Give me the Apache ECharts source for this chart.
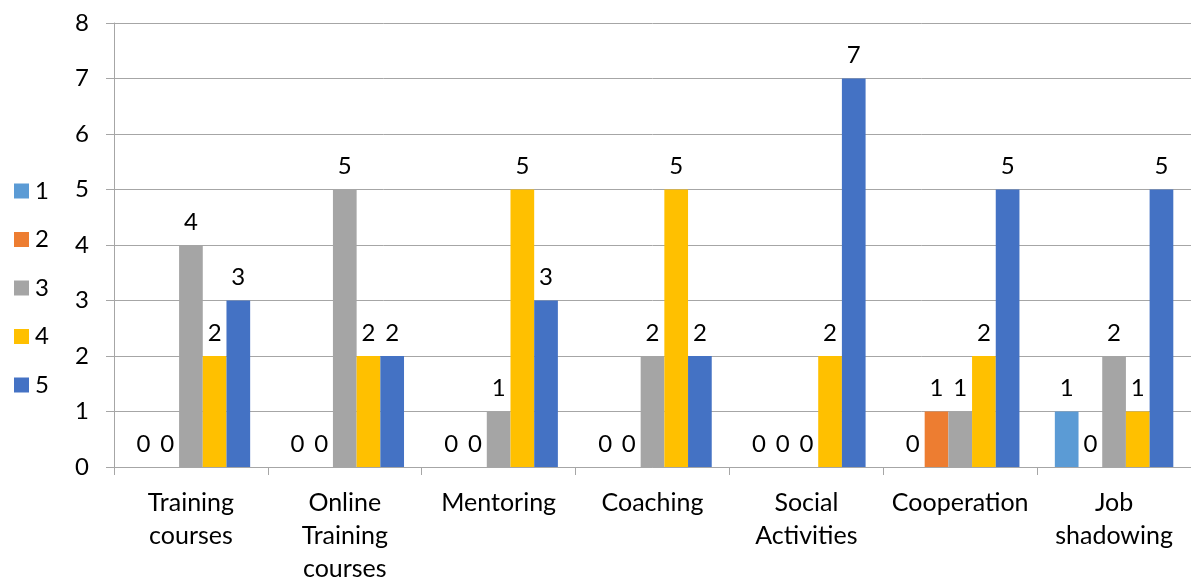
<!DOCTYPE html>
<html>
<head>
<meta charset="utf-8">
<script src="https://cdn.jsdelivr.net/npm/echarts@6/dist/echarts.min.js"></script>
<style>
  html, body { margin: 0; padding: 0; background: #ffffff; }
  #chart { width: 1191px; height: 579px; }
</style>
</head>
<body>
<div id="chart"></div>
<script>
// Activity categories along the x axis
const categories = [
  'Training\ncourses',
  'Online\nTraining\ncourses',
  'Mentoring',
  'Coaching',
  'Social\nActivities',
  'Cooperation',
  'Job\nshadowing'
];

// Count of responses per rating (1 = lowest, 5 = highest)
const rating1 = [0, 0, 0, 0, 0, 0, 1];
const rating2 = [0, 0, 0, 0, 0, 1, 0];
const rating3 = [4, 5, 1, 2, 0, 1, 2];
const rating4 = [2, 2, 5, 5, 2, 2, 1];
const rating5 = [3, 2, 3, 2, 7, 5, 5];

const seriesNames = ['1', '2', '3', '4', '5'];
const seriesData = [rating1, rating2, rating3, rating4, rating5];
const seriesColors = ['#5B9BD5', '#ED7D31', '#A5A5A5', '#FFC000', '#4472C4'];

const FONT = 'Lato, "Open Sans", sans-serif';
const TEXT = '#000000';
const GRIDLINE = '#A6A6A6';
const FS = 24;

const chart = echarts.init(document.getElementById('chart'), null, { renderer: 'canvas' });

const series = seriesNames.map((name, i) => ({
  name: name,
  type: 'bar',
  data: seriesData[i],
  barGap: '0%',
  barCategoryGap: '23%',
  itemStyle: { color: seriesColors[i] },
  label: {
    show: true,
    position: 'top',
    distance: 11,
    color: TEXT,
    fontFamily: FONT,
    fontSize: FS
  }
}));

chart.setOption({
  animation: false,
  backgroundColor: '#ffffff',
  textStyle: { fontFamily: FONT },
  legend: {
    orient: 'vertical',
    left: 14,
    top: 179,
    padding: 0,
    itemWidth: 15,
    itemHeight: 15,
    itemGap: 24.5,
    icon: 'rect',
    data: seriesNames,
    textStyle: { color: TEXT, fontFamily: FONT, fontSize: FS, lineHeight: 24, padding: [0, 0, 0, 1] }
  },
  grid: {
    left: 114,
    right: 0,
    top: 23,
    bottom: 112,
    containLabel: false,
    outerBoundsMode: 'none'
  },
  xAxis: {
    type: 'category',
    data: categories,
    axisLine: { show: true, lineStyle: { color: GRIDLINE, width: 1 } },
    axisTick: { show: true, alignWithLabel: false, length: 8, lineStyle: { color: GRIDLINE } },
    axisLabel: {
      color: TEXT,
      fontFamily: FONT,
      fontSize: 25,
      lineHeight: 33,
      margin: 19,
      interval: 0
    },
    splitLine: { show: false }
  },
  yAxis: {
    type: 'value',
    min: 0,
    max: 8,
    interval: 1,
    axisLine: { show: true, lineStyle: { color: GRIDLINE, width: 1 } },
    axisTick: { show: true, length: 8, lineStyle: { color: GRIDLINE } },
    axisLabel: {
      color: TEXT,
      fontFamily: FONT,
      fontSize: FS,
      margin: 25
    },
    splitLine: { show: true, lineStyle: { color: GRIDLINE, width: 1 } }
  },
  series: series
});
</script>
</body>
</html>
